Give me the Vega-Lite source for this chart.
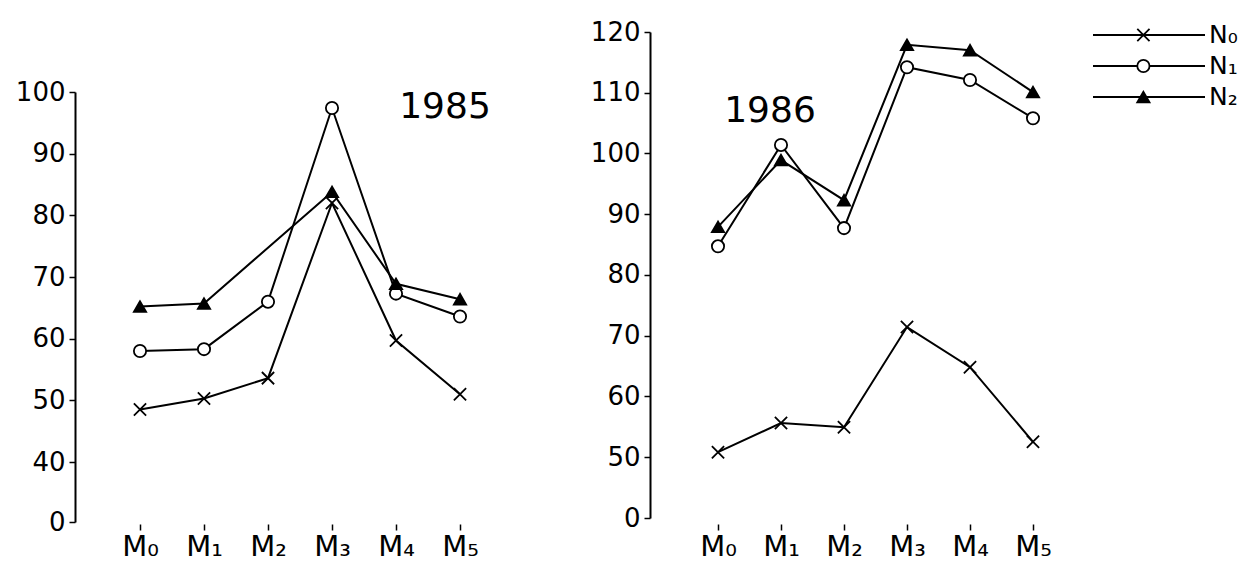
{
  "$schema": "https://vega.github.io/schema/vega-lite/v6.json",
  "background": "white",
  "padding": {"left": 15, "top": 2, "right": 0, "bottom": 0},
  "spacing": 40,
  "config": {
    "view": {"stroke": null},
    "font": "DejaVu Sans",
    "axis": {"labelFont": "DejaVu Sans", "labelColor": "black", "domainColor": "black", "tickColor": "black", "domainWidth": 2, "tickWidth": 1.5, "grid": false, "title": null, "labelOverlap": false}
  },
  "datasets": {
    "main": [
      {"year": 1985, "month": "M₀", "series": "N₀", "value": 48.5},
      {"year": 1985, "month": "M₁", "series": "N₀", "value": 50.3},
      {"year": 1985, "month": "M₂", "series": "N₀", "value": 53.6},
      {"year": 1985, "month": "M₃", "series": "N₀", "value": 82},
      {"year": 1985, "month": "M₄", "series": "N₀", "value": 59.7},
      {"year": 1985, "month": "M₅", "series": "N₀", "value": 51},
      {"year": 1985, "month": "M₀", "series": "N₁", "value": 58},
      {"year": 1985, "month": "M₁", "series": "N₁", "value": 58.3},
      {"year": 1985, "month": "M₂", "series": "N₁", "value": 66},
      {"year": 1985, "month": "M₃", "series": "N₁", "value": 97.4},
      {"year": 1985, "month": "M₄", "series": "N₁", "value": 67.3},
      {"year": 1985, "month": "M₅", "series": "N₁", "value": 63.6},
      {"year": 1985, "month": "M₀", "series": "N₂", "value": 65.2},
      {"year": 1985, "month": "M₁", "series": "N₂", "value": 65.7},
      {"year": 1985, "month": "M₃", "series": "N₂", "value": 83.8},
      {"year": 1985, "month": "M₄", "series": "N₂", "value": 68.9},
      {"year": 1985, "month": "M₅", "series": "N₂", "value": 66.4},
      {"year": 1986, "month": "M₀", "series": "N₀", "value": 50.8},
      {"year": 1986, "month": "M₁", "series": "N₀", "value": 55.6},
      {"year": 1986, "month": "M₂", "series": "N₀", "value": 54.9},
      {"year": 1986, "month": "M₃", "series": "N₀", "value": 71.4},
      {"year": 1986, "month": "M₄", "series": "N₀", "value": 64.8},
      {"year": 1986, "month": "M₅", "series": "N₀", "value": 52.5},
      {"year": 1986, "month": "M₀", "series": "N₁", "value": 84.7},
      {"year": 1986, "month": "M₁", "series": "N₁", "value": 101.4},
      {"year": 1986, "month": "M₂", "series": "N₁", "value": 87.7},
      {"year": 1986, "month": "M₃", "series": "N₁", "value": 114.2},
      {"year": 1986, "month": "M₄", "series": "N₁", "value": 112.1},
      {"year": 1986, "month": "M₅", "series": "N₁", "value": 105.8},
      {"year": 1986, "month": "M₀", "series": "N₂", "value": 87.9},
      {"year": 1986, "month": "M₁", "series": "N₂", "value": 98.9},
      {"year": 1986, "month": "M₂", "series": "N₂", "value": 92.3},
      {"year": 1986, "month": "M₃", "series": "N₂", "value": 117.9},
      {"year": 1986, "month": "M₄", "series": "N₂", "value": 117},
      {"year": 1986, "month": "M₅", "series": "N₂", "value": 110.1}
    ],
    "series": [{"series": "N₀"}, {"series": "N₁"}, {"series": "N₂"}]
  },
  "hconcat": [
    {
      "width": 475,
      "height": 520,
      "layer": [
        {
          "data": {"name": "main"},
          "transform": [{"filter": "datum.year == 1985"}],
          "encoding": {
            "x": {"field": "month", "type": "ordinal", "scale": {"type": "point", "padding": 0, "domain": ["M₀", "M₁", "M₂", "M₃", "M₄", "M₅"], "range": [65, 385]}, "axis": {"domain": false, "tickSize": 6, "offset": 2, "labelPadding": 2, "labelFontSize": 29, "labelAngle": 0}},
            "y": {"field": "value", "type": "quantitative", "scale": {"domain": [0, 40, 100], "range": [520, 460, 90], "zero": false, "nice": false}, "axis": {"values": [0, 40, 50, 60, 70, 80, 90, 100], "tickSize": 6, "labelPadding": 4, "labelFontSize": 26}}
          },
          "layer": [
            {"mark": {"type": "line", "color": "black", "strokeWidth": 2}, "encoding": {"detail": {"field": "series"}}},
            {
              "mark": {"type": "point", "filled": true, "stroke": "black", "strokeWidth": 1.8, "size": 150, "opacity": 1},
              "encoding": {
                "shape": {"field": "series", "type": "nominal", "scale": {"domain": ["N₀", "N₁", "N₂"], "range": ["M-1,-1L1,1M-1,1L1,-1", "circle", "triangle-up"]}, "legend": null},
                "fill": {"field": "series", "type": "nominal", "scale": {"domain": ["N₀", "N₁", "N₂"], "range": ["white", "white", "black"]}, "legend": null}
              }
            }
          ]
        },
        {
          "data": {"values": [{"label": "1985"}]},
          "mark": {"type": "text", "fontSize": 36, "letterSpacing": 3, "align": "center", "baseline": "middle", "dx": -15, "color": "black"},
          "encoding": {
            "x": {"datum": "M₅", "type": "ordinal"},
            "y": {"datum": 97.5, "type": "quantitative"},
            "text": {"field": "label"}
          }
        }
      ]
    },
    {
      "width": 392,
      "height": 520,
      "layer": [
        {
          "data": {"name": "main"},
          "transform": [{"filter": "datum.year == 1986"}],
          "encoding": {
            "x": {"field": "month", "type": "ordinal", "scale": {"type": "point", "padding": 0, "domain": ["M₀", "M₁", "M₂", "M₃", "M₄", "M₅"], "range": [68, 383]}, "axis": {"domain": false, "tickSize": 6, "offset": 2, "labelPadding": 2, "labelFontSize": 29, "labelAngle": 0}},
            "y": {"field": "value", "type": "quantitative", "scale": {"domain": [0, 50, 120], "range": [516, 455, 30], "zero": false, "nice": false}, "axis": {"values": [0, 50, 60, 70, 80, 90, 100, 110, 120], "tickSize": 6, "labelPadding": 4, "labelFontSize": 26}}
          },
          "layer": [
            {"mark": {"type": "line", "color": "black", "strokeWidth": 2}, "encoding": {"detail": {"field": "series"}}},
            {
              "mark": {"type": "point", "filled": true, "stroke": "black", "strokeWidth": 1.8, "size": 150, "opacity": 1},
              "encoding": {
                "shape": {"field": "series", "type": "nominal", "legend": null},
                "fill": {"field": "series", "type": "nominal", "legend": null}
              }
            }
          ]
        },
        {
          "data": {"values": [{"label": "1986"}]},
          "mark": {"type": "text", "fontSize": 36, "letterSpacing": 3, "align": "center", "baseline": "middle", "dx": -11, "color": "black"},
          "encoding": {
            "x": {"datum": "M₁", "type": "ordinal"},
            "y": {"datum": 107, "type": "quantitative"},
            "text": {"field": "label"}
          }
        }
      ]
    },
    {
      "width": 112,
      "height": 520,
      "data": {"name": "series"},
      "encoding": {
        "y": {"field": "series", "type": "nominal", "scale": {"type": "point", "padding": 0, "domain": ["N₀", "N₁", "N₂"], "range": [33, 95]}, "axis": null}
      },
      "layer": [
        {
          "mark": {"type": "rule", "color": "black", "strokeWidth": 2},
          "encoding": {
            "x": {"datum": 0, "type": "quantitative", "scale": {"domain": [0, 1], "range": [0, 112], "zero": false, "nice": false}, "axis": null},
            "x2": {"datum": 1}
          }
        },
        {
          "mark": {"type": "point", "filled": true, "stroke": "black", "strokeWidth": 1.8, "size": 150, "opacity": 1},
          "encoding": {
            "x": {"datum": 0.45, "type": "quantitative"},
            "shape": {"field": "series", "type": "nominal", "legend": null},
            "fill": {"field": "series", "type": "nominal", "legend": null}
          }
        },
        {
          "mark": {"type": "text", "align": "left", "baseline": "middle", "dx": 4, "fontSize": 25, "color": "black"},
          "encoding": {
            "x": {"datum": 1, "type": "quantitative"},
            "text": {"field": "series"}
          }
        }
      ]
    }
  ]
}
